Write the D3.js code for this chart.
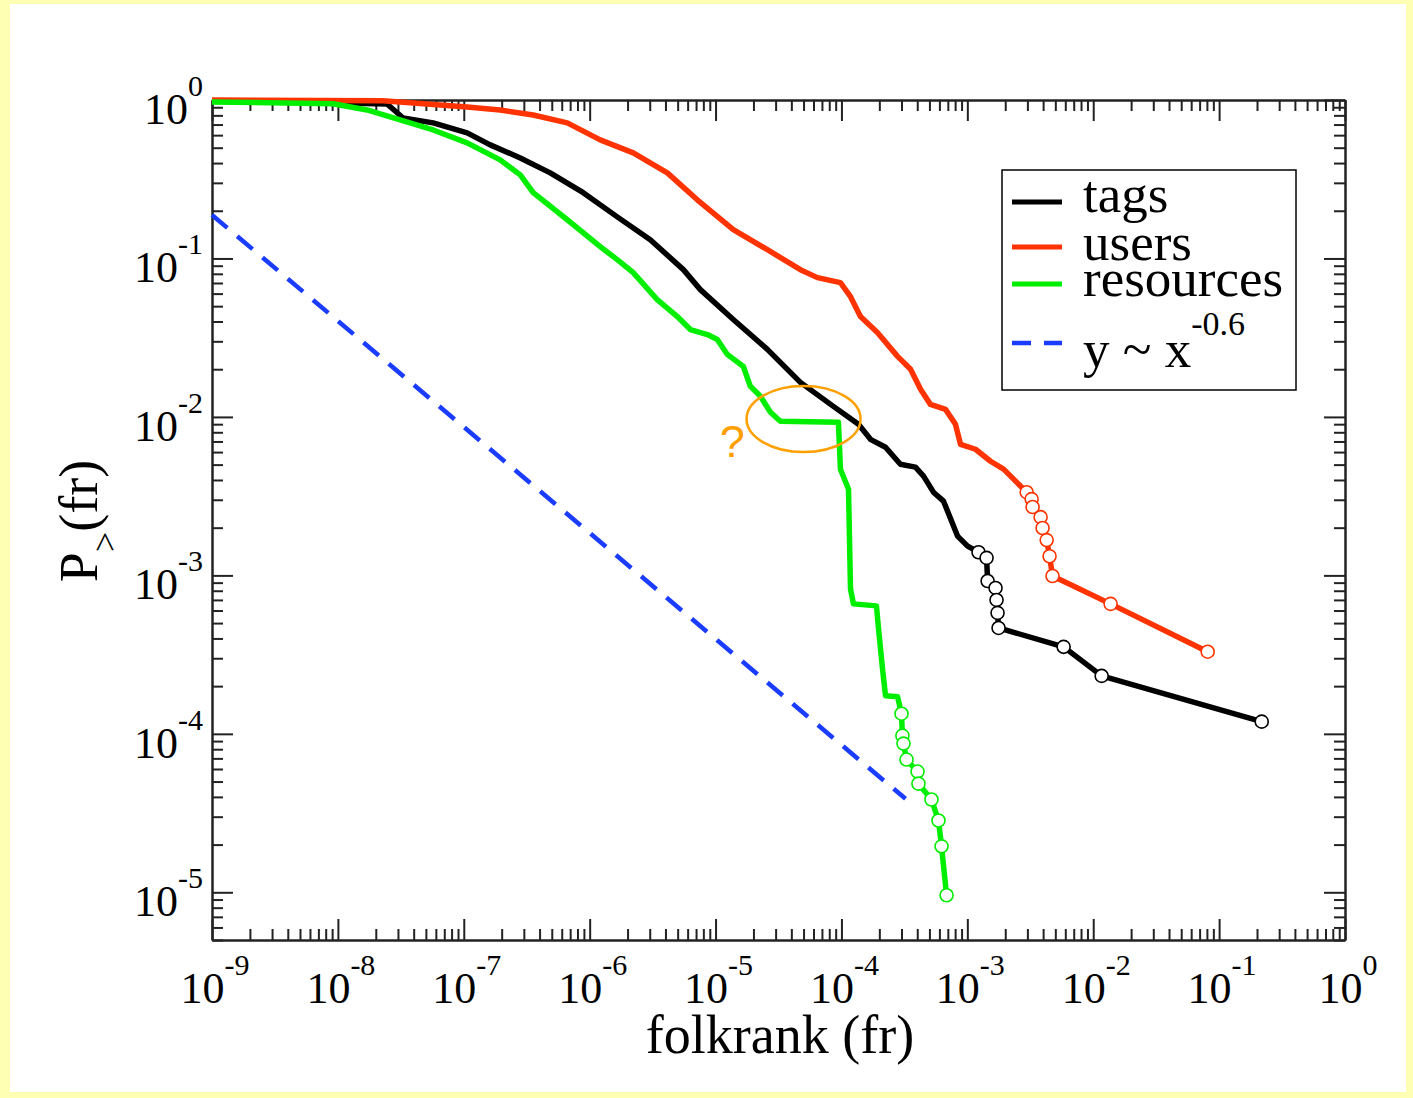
<!DOCTYPE html>
<html><head><meta charset="utf-8">
<script src="https://cdn.jsdelivr.net/npm/d3@7"></script>
<style>
html,body{margin:0;padding:0;background:#ffffb4;}
svg{display:block;}
</style></head><body>
<svg id="c" width="1413" height="1098"></svg>
<script>
// ---- data ----
const xTickExps = [-9,-8,-7,-6,-5,-4,-3,-2,-1,0];
const yTickExps = [0,-1,-2,-3,-4,-5];
const seriesNames = ["tags","users","resources"];

const tagsX = [1e-9,3.47e-9,2.46e-8,3.30e-8,5.71e-8,1.064e-7,1.62e-7,2.81e-7,4.86e-7,8.89e-7,1.656e-6,3.03e-6,5.55e-6,7.57e-6,1.383e-5,2.58e-5,4.72e-5,8.63e-5,1.365e-4,1.70e-4,2.24e-4,2.94e-4,3.87e-4,4.49e-4,5.38e-4,6.47e-4,8.36e-4,1.005e-3,1.227e-3,1.422e-3,1.449e-3,1.675e-3,1.706e-3,1.738e-3,1.770e-3,5.82e-3,1.167e-2,0.218];
const tagsY = [0.99,0.978,0.944,0.770,0.717,0.620,0.521,0.431,0.347,0.260,0.183,0.1313,0.0850,0.0636,0.0412,0.0267,0.01652,0.01166,0.00898,0.00722,0.00644,0.00503,0.00482,0.00423,0.00335,0.00294,0.00177,0.00153,0.00140,0.00129,9.22e-4,8.33e-4,7.00e-4,5.80e-4,4.66e-4,3.54e-4,2.32e-4,1.194e-4];

const usersX = [1e-9,2.28e-8,1.064e-7,1.945e-7,3.56e-7,6.64e-7,1.213e-6,2.22e-6,4.14e-6,7.16e-6,1.383e-5,2.58e-5,4.72e-5,6.44e-5,9.82e-5,1.18e-4,1.416e-4,1.93e-4,2.79e-4,3.54e-4,4.25e-4,5.09e-4,6.71e-4,8.05e-4,8.83e-4,1.161e-3,1.528e-3,1.94e-3,2.33e-3,2.96e-3,3.24e-3,3.30e-3,3.82e-3,3.96e-3,4.27e-3,4.50e-3,4.75e-3,1.374e-2,8.11e-2];
const usersY = [1.0,0.99,0.903,0.865,0.804,0.717,0.560,0.464,0.347,0.2346,0.1518,0.1136,0.0850,0.0757,0.0704,0.0574,0.0430,0.0341,0.0241,0.0200,0.01493,0.0120,0.01116,0.00898,0.00672,0.00625,0.00525,0.00468,0.00405,0.00335,0.00303,0.00270,0.00233,0.00199,0.00167,0.00132,9.91e-4,6.61e-4,3.30e-4];

const resourcesX = [1e-9,9.17e-9,1.706e-8,3.12e-8,5.71e-8,1.064e-7,1.945e-7,2.81e-7,3.56e-7,6.64e-7,1.213e-6,1.656e-6,2.22e-6,3.44e-6,4.97e-6,6.31e-6,8.61e-6,1.033e-5,1.24e-5,1.663e-5,1.89e-5,2.27e-5,2.73e-5,3.27e-5,9.46e-5,9.82e-5,1.138e-4,1.18e-4,1.245e-4,1.897e-4,1.97e-4,2.12e-4,2.24e-4,2.79e-4,3.00e-4,3.05e-4,3.11e-4,3.29e-4,4.02e-4,4.09e-4,5.19e-4,5.90e-4,6.24e-4,6.84e-4];
const resourcesY = [0.971,0.948,0.865,0.749,0.647,0.536,0.419,0.337,0.260,0.1755,0.1187,0.0983,0.0814,0.0550,0.0430,0.0356,0.0331,0.0308,0.0248,0.0208,0.0156,0.01349,0.01069,0.00938,0.00924,0.00468,0.00350,8.21e-4,6.61e-4,6.42e-4,4.60e-4,2.57e-4,1.74e-4,1.715e-4,1.34e-4,9.74e-5,8.68e-5,6.88e-5,5.78e-5,4.85e-5,3.85e-5,2.84e-5,1.95e-5,9.58e-6];

// number of trailing points drawn with open circles
const markedTail = [10,10,10];

// power-law guide y ~ x^-0.6 (end points as read)
const fitX = [1e-9,3.23e-4];
const fitY = [0.188,3.89e-5];

// annotation (question mark + ellipse) in data coordinates
const noteEllipse = [5.0e-5,0.0097];
const noteMark = [1.36e-5,0.0056];

// ---- chart ----
const W = 1413, H = 1098;
const m = {l:212, r:1345, t:100, b:940};
const colors = {tags:"#000000", users:"#ff3300", resources:"#00ee00", fit:"#1a3cff"};
const serif = "'Liberation Serif','Times New Roman',Times,serif";

const svg = d3.select("#c");
svg.append("rect").attr("x",10).attr("y",4).attr("width",W-17).attr("height",H-10).attr("fill","#ffffff");

const x = d3.scaleLog().domain([1e-9,1]).range([m.l,m.r]);
const y = d3.scaleLog().domain([5e-6,1]).range([m.b,m.t]);

function ticksFor(dom){
  const lo = Math.floor(Math.log10(dom[0])), hi = Math.ceil(Math.log10(dom[1]));
  const maj=[], min=[];
  for(let k=lo;k<=hi;k++){
    for(let j=1;j<=9;j++){
      const v = j*Math.pow(10,k);
      if(v < dom[0]*0.999 || v > dom[1]*1.001) continue;
      (j===1?maj:min).push(v);
    }
  }
  return {maj,min};
}
const xt = ticksFor(x.domain()), yt = ticksFor(y.domain());
const MAJ = 21, MIN = 11;
const axisG = svg.append("g").attr("class","axes");
function addAxis(gen, scale, vals, size, transform){
  axisG.append("g").attr("transform",transform)
    .call(gen(scale).tickValues(vals).tickSizeInner(size).tickSizeOuter(0).tickFormat(""))
    .call(g=>{g.selectAll("path,line").attr("stroke","#222").attr("stroke-width",2);});
}
addAxis(d3.axisBottom,x,xt.min,-MIN,`translate(0,${m.b})`);
addAxis(d3.axisBottom,x,xt.maj,-MAJ,`translate(0,${m.b})`);
addAxis(d3.axisTop,x,xt.min,-MIN,`translate(0,${m.t})`);
addAxis(d3.axisTop,x,xt.maj,-MAJ,`translate(0,${m.t})`);
addAxis(d3.axisLeft,y,yt.min,-MIN,`translate(${m.l},0)`);
addAxis(d3.axisLeft,y,yt.maj,-MAJ,`translate(${m.l},0)`);
addAxis(d3.axisRight,y,yt.min,-MIN,`translate(${m.r},0)`);
addAxis(d3.axisRight,y,yt.maj,-MAJ,`translate(${m.r},0)`);

// tick labels 10^k
const labG = svg.append("g").attr("font-family",serif).attr("fill","#000");
xTickExps.forEach(k=>{
  const t = labG.append("text").attr("x",x(Math.pow(10,k))+3).attr("y",1003).attr("text-anchor","middle").attr("font-size",44);
  t.append("tspan").text("10");
  t.append("tspan").attr("font-size",30).attr("dy",-28).text(String(k));
});
yTickExps.forEach(k=>{
  const t = labG.append("text").attr("x",203).attr("y",y(Math.pow(10,k))+24).attr("text-anchor","end").attr("font-size",44);
  t.append("tspan").text("10");
  t.append("tspan").attr("font-size",30).attr("dy",-28).text(String(k));
});

// axis titles
labG.append("text").attr("x",780).attr("y",1053).attr("text-anchor","middle").attr("font-size",54).text("folkrank (fr)");
const yt2 = labG.append("text").attr("transform",`translate(97,${(m.t+m.b)/2+1}) rotate(-90)`).attr("text-anchor","middle").attr("font-size",54);
yt2.append("tspan").text("P");
yt2.append("tspan").attr("font-size",36).attr("dy",20).text(">");
yt2.append("tspan").attr("dy",-20).text("(fr)");

// fit line
const line = d3.line().x(d=>x(d[0])).y(d=>y(d[1]));
svg.append("path").datum(d3.zip(fitX,fitY)).attr("d",line)
  .attr("fill","none").attr("stroke",colors.fit).attr("stroke-width",4.5).attr("stroke-dasharray","20,13");

// data series
const seriesData = {
  tags: d3.zip(tagsX,tagsY),
  users: d3.zip(usersX,usersY),
  resources: d3.zip(resourcesX,resourcesY)
};
seriesNames.forEach((name,i)=>{
  const pts = seriesData[name];
  svg.append("path").datum(pts).attr("d",line).attr("fill","none")
    .attr("stroke",colors[name]).attr("stroke-width",5.5).attr("stroke-linejoin","round");
  svg.append("g").selectAll("circle").data(pts.slice(pts.length-markedTail[i])).join("circle")
    .attr("cx",d=>x(d[0])).attr("cy",d=>y(d[1])).attr("r",6.5)
    .attr("fill","#fff").attr("stroke",colors[name]).attr("stroke-width",1.6);
});

// annotation
svg.append("ellipse").attr("cx",x(noteEllipse[0])).attr("cy",y(noteEllipse[1])).attr("rx",57).attr("ry",33)
  .attr("fill","none").attr("stroke","#ffa000").attr("stroke-width",2.5);
svg.append("text").attr("x",x(noteMark[0])).attr("y",y(noteMark[1])).attr("text-anchor","middle")
  .attr("font-family","'Liberation Sans',Arial,sans-serif").attr("font-size",45).attr("fill","#ffa000").text("?");

// legend
const lg = svg.append("g");
lg.append("rect").attr("x",1002).attr("y",170).attr("width",294).attr("height",220)
  .attr("fill","#fff").attr("stroke","#000").attr("stroke-width",1.5);
const legendRows = [
  {name:"tags",ly:202,ty:212},
  {name:"users",ly:247,ty:260},
  {name:"resources",ly:284,ty:296}
];
legendRows.forEach(r=>{
  lg.append("line").attr("x1",1012).attr("x2",1062).attr("y1",r.ly).attr("y2",r.ly)
    .attr("stroke",colors[r.name]).attr("stroke-width",5);
  lg.append("text").attr("x",1083).attr("y",r.ty).attr("font-family",serif).attr("font-size",53).text(r.name);
});
lg.append("line").attr("x1",1012).attr("x2",1062).attr("y1",343).attr("y2",343)
  .attr("stroke",colors.fit).attr("stroke-width",4.5).attr("stroke-dasharray","19,13");
const ft = lg.append("text").attr("x",1083).attr("y",367).attr("font-family",serif).attr("font-size",53);
ft.append("tspan").text("y ~ x");
ft.append("tspan").attr("font-size",34).attr("dy",-32).text("-0.6");
</script>
</body></html>
